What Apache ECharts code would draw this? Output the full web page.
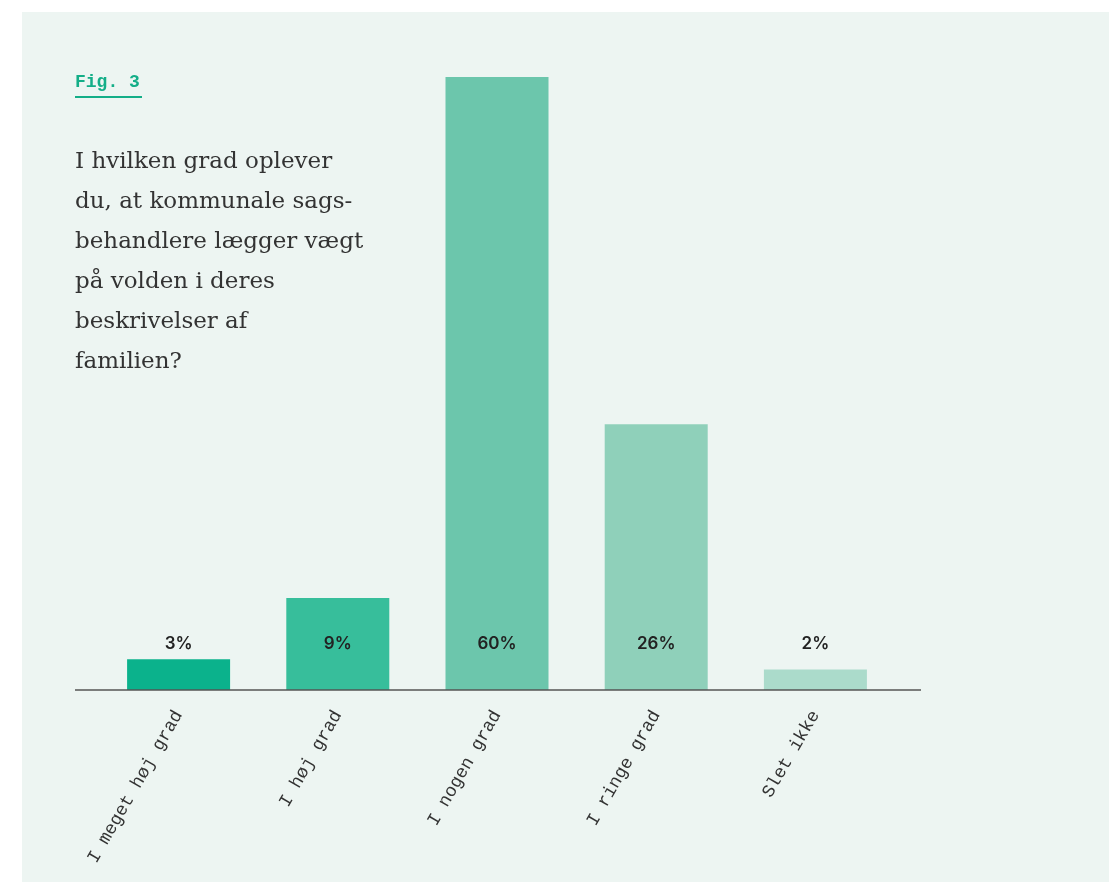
<!DOCTYPE html>
<html><head><meta charset="utf-8">
<script src="https://cdn.jsdelivr.net/npm/echarts@6/dist/echarts.min.js"></script>
<style>html,body{margin:0;padding:0;background:#fff;}#c{width:1109px;height:882px;}</style>
</head><body><div id="c"></div>
<script>
const categories = ['I meget høj grad', 'I høj grad', 'I nogen grad', 'I ringe grad', 'Slet ikke'];
const values = [3, 9, 60, 26, 2];
const barColors = ['#0BB28C', '#37BE9B', '#6CC6AC', '#8FD0BA', '#ABDBCB'];
const figLabel = 'Fig. 3';
const question = 'I hvilken grad oplever\ndu, at kommunale sags-\nbehandlere lægger vægt\npå volden i deres\nbeskrivelser af\nfamilien?';

const chart = echarts.init(document.getElementById('c'));
chart.setOption({
  animation: false,
  backgroundColor: '#ffffff',
  graphic: [
    {type: 'rect', z: -10, shape: {x: 22, y: 12, width: 1087, height: 870}, style: {fill: '#EDF5F2'}},
    {type: 'text', left: 75, top: 73, style: {text: figLabel, font: 'bold 18px "Liberation Mono", monospace', fill: '#14AE88'}},
    {type: 'line', shape: {x1: 75, y1: 97, x2: 142, y2: 97}, style: {stroke: '#14AE88', lineWidth: 2}},
    {type: 'text', left: 75, top: 142, style: {text: question, font: '23px "DejaVu Serif", serif', lineHeight: 40, fill: '#333333'}},
    {type: 'line', z: 10, shape: {x1: 75, y1: 690, x2: 921, y2: 690}, style: {stroke: '#555555', lineWidth: 1.5}}
  ],
  grid: {left: 99, right: 214, top: 77, bottom: 192, containLabel: false},
  xAxis: {
    type: 'category', data: categories,
    axisLine: {show: false}, axisTick: {show: false},
    axisLabel: {rotate: 60, interval: 0, margin: 22, fontFamily: '"Liberation Mono", monospace', fontSize: 18, color: '#333333'}
  },
  yAxis: {type: 'value', min: 0, max: 60, show: false, splitLine: {show: false}},
  series: [{
    type: 'bar', barWidth: 103,
    data: values.map((v, i) => ({value: v, itemStyle: {color: barColors[i]}})),
    label: {show: true, position: 'insideBottom', distance: 38, formatter: '{c}%',
      fontFamily: 'Inter, Lato, sans-serif', fontWeight: 600, fontSize: 17, color: '#222222'}
  }]
});
</script></body></html>
